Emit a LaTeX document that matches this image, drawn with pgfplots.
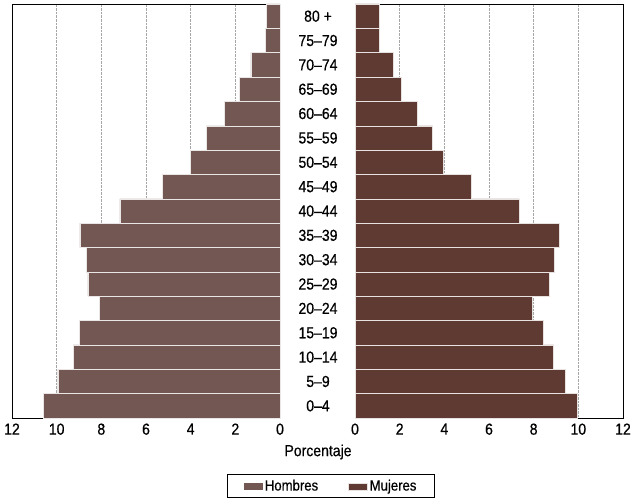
\documentclass[border=0pt]{standalone}
\usepackage{fontspec}
\setmainfont{Liberation Sans}[FakeStretch=0.88,FakeBold=0.5]
\usepackage{pgfplots}
\pgfplotsset{compat=1.18}
\definecolor{hom}{HTML}{735753}
\definecolor{muj}{HTML}{5F3A32}
\begin{document}
\begin{tikzpicture}[x=1bp,y=1bp]
\path[use as bounding box] (-12bp,-85bp) rectangle (620bp,418bp);
\pgfplotsset{pyr/.style={
  scale only axis, width=268bp, height=414bp,
  xmin=0, xmax=12, ymin=-0.5, ymax=16.5,
  xtick={0,2,...,12},
  major tick length=0pt,
  xmajorgrids, grid style={densely dotted, gray!70, line width=0.6pt},
  axis line style={black, line width=0.8pt},
  tick label style={font=\fontsize{16}{16}\selectfont},
  xticklabel style={yshift=-2bp},
  /pgf/number format/assume math mode=true,
  xbar, bar width=1, bar shift=0pt,
  clip=false,
}}
% Hombres (left)
\begin{axis}[pyr, at={(0bp,0bp)}, anchor=south west, x dir=reverse,
  ytick=\empty, name=left]
\addplot[fill=hom, draw=white!85!hom, line width=0.5pt] coordinates {
(10.58,0) (9.95,1) (9.25,2) (8.97,3) (8.1,4) (8.6,5) (8.66,6) (8.96,7)
(7.17,8) (5.25,9) (4.0,10) (3.3,11) (2.5,12) (1.83,13) (1.3,14) (0.67,15) (0.6,16)};
\end{axis}
% Mujeres (right)
\begin{axis}[pyr, at={(343bp,0bp)}, anchor=south west,
  ytick={0,...,16},
  yticklabels={0--4,5--9,10--14,15--19,20--24,25--29,30--34,35--39,40--44,45--49,50--54,55--59,60--64,65--69,70--74,75--79,80 +},
  yticklabel style={anchor=center, xshift=-37bp},
  legend columns=2,
  legend style={at={(-0.089,-0.164)}, anchor=center, draw=black, line width=0.8pt,
    font=\fontsize{15}{15}\selectfont, inner xsep=16bp, inner ysep=3bp,
    /tikz/every even column/.append style={column sep=28bp}},
  legend image code/.code={\fill[#1] (0bp,-4bp) rectangle (19bp,3bp);},
  name=right]
\addlegendimage{fill=hom, draw=none}
\addlegendentry{Hombres}
\addplot[fill=muj, draw=white!85!muj, line width=0.5pt] coordinates {
(9.97,0) (9.41,1) (8.89,2) (8.44,3) (7.93,4) (8.71,5) (8.93,6) (9.16,7)
(7.35,8) (5.21,9) (3.93,10) (3.48,11) (2.77,12) (2.09,13) (1.7,14) (1.07,15) (1.08,16)};
\addlegendentry{Mujeres}
\end{axis}
\node[font=\fontsize{16}{16}\selectfont] at (306bp,-34bp) {Porcentaje};
\end{tikzpicture}
\end{document}
